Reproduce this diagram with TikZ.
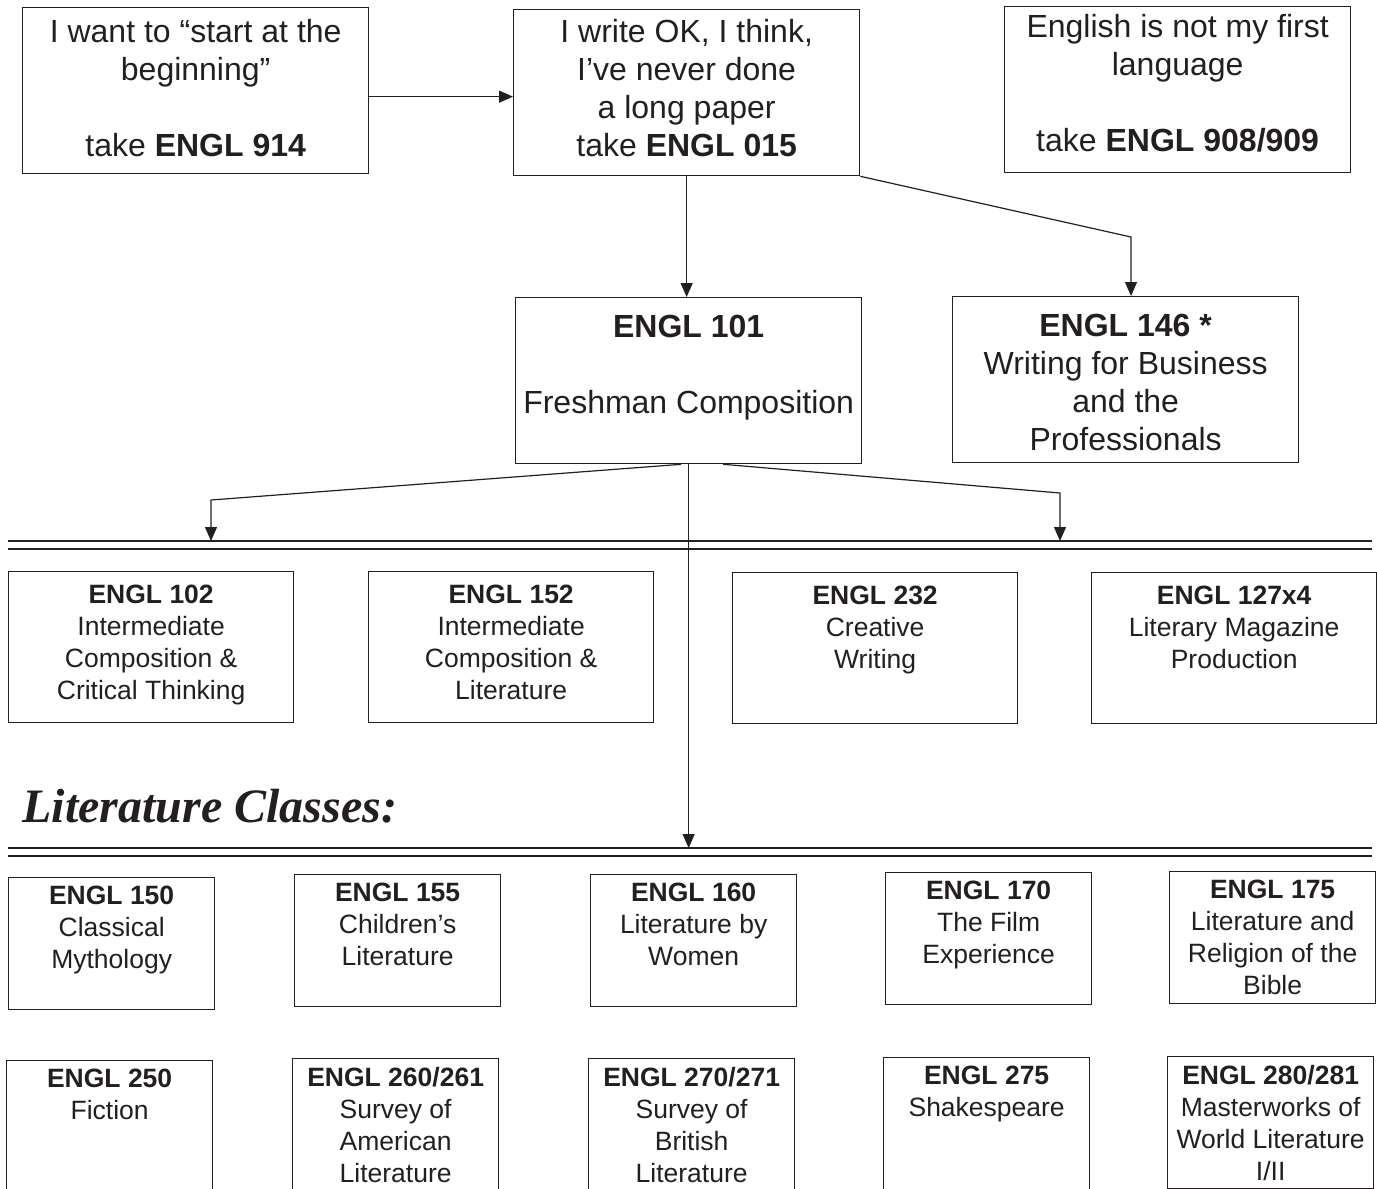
\documentclass[tikz,border=0pt]{standalone}
\usepackage{fontspec}
\setmainfont{Liberation Sans}
\newfontfamily\headingfont{Liberation Serif}
\usetikzlibrary{arrows.meta,positioning}
\definecolor{ink}{HTML}{231F20}

\begin{document}
\begin{tikzpicture}[
  x=0.5pt, y=-0.5pt,
  arrow/.style={-{Triangle[length=7pt,width=6pt]}, line width=0.6pt, draw=ink},
  divider/.style={line width=0.9pt, draw=ink},
  coursebox/.style={draw=ink, line width=0.65pt, anchor=north west, inner sep=0pt},
  topbox/.style={coursebox, minimum width=173pt, minimum height=83pt},
  widebox/.style={coursebox, minimum width=142.5pt, minimum height=75.5pt},
  smallbox/.style={coursebox, minimum width=103pt, minimum height=66pt},
  bigtext/.style={anchor=north, align=center, inner sep=0pt, text=ink,
    font=\fontsize{16pt}{19pt}\selectfont},
  smalltext/.style={bigtext, font=\fontsize{13.25pt}{16pt}\selectfont},
  heading/.style={anchor=base west, inner sep=0pt, text=ink,
    font=\headingfont\bfseries\itshape\fontsize{24pt}{28pt}\selectfont}
]
\useasboundingbox (0,0) rectangle (1377,1189);

% where to start
\node[topbox, label={[bigtext, yshift=-5.75pt]north:{I want to “start at the\\beginning”\\[19pt]take \textbf{ENGL 914}}}] (start) at (22,7) {};
\node[topbox, label={[bigtext, yshift=-4.75pt]north:{I write OK, I think,\\I’ve never done\\a long paper\\take \textbf{ENGL 015}}}] (write) at (513,9) {};
\node[topbox, label={[bigtext, yshift=-3.75pt]north:{English is not my first\\language\\[19pt]take \textbf{ENGL 908/909}}}] (esl) at (1004,6) {};

\node[topbox, label={[bigtext, yshift=-8.75pt]north:{\textbf{ENGL 101}\\[19pt]Freshman Composition}}] (comp) at (515,297) {};
\node[topbox, label={[bigtext, yshift=-8.75pt]north:{\textbf{ENGL 146 *}\\Writing for Business\\and the\\Professionals}}] (biz) at (952,296) {};

\draw[arrow] ([yshift=-3pt]start.east) -- ([yshift=-3pt]start.east -| write.west);
\draw[arrow] (write.south) -- (write.south |- comp.north);
\coordinate (bizknee) at (1131,237);
\draw[arrow] (write.south east) -- (bizknee) -- (bizknee |- biz.north);

% dividers
\coordinate (upperrule) at (8,541);
\coordinate (lowerrule) at (8,848);
\draw[divider] (upperrule) -- ++(1364,0) ([yshift=-4pt]upperrule) -- ++(1364,0);
\draw[divider] (lowerrule) -- ++(1364,0) ([yshift=-4pt]lowerrule) -- ++(1364,0);

\coordinate (leftknee) at (211,500);
\coordinate (rightknee) at (1060,493);
\draw[arrow] ([xshift=-3.75pt]comp.south) -- (leftknee) -- (leftknee |- upperrule);
\draw[arrow] ([xshift=17.25pt]comp.south) -- (rightknee) -- (rightknee |- upperrule);
\draw[arrow] (comp.south) -- (comp.south |- lowerrule);

% writing classes
\node[widebox, label={[smalltext, yshift=-7pt]north:{\textbf{ENGL 102}\\Intermediate\\Composition \&\\Critical Thinking}}] (e102) at (8,571) {};
\node[widebox, label={[smalltext, yshift=-7pt]north:{\textbf{ENGL 152}\\Intermediate\\Composition \&\\Literature}}] (e152) at (368,571) {};
\node[widebox, label={[smalltext, yshift=-7pt]north:{\textbf{ENGL 232}\\Creative\\Writing}}] (e232) at (732,572) {};
\node[widebox, label={[smalltext, yshift=-7pt]north:{\textbf{ENGL 127x4}\\Literary Magazine\\Production}}] (e127) at (1091,572) {};

\node[heading] (litclasses) at (22,822) {Literature Classes:};

% literature classes
\node[smallbox, label={[smalltext, yshift=-4.25pt]north:{\textbf{ENGL 150}\\Classical\\Mythology}}] (e150) at (8,877) {};
\node[smallbox, label={[smalltext, yshift=-4.25pt]north:{\textbf{ENGL 155}\\Children’s\\Literature}}] (e155) at (294,874) {};
\node[smallbox, label={[smalltext, yshift=-4.25pt]north:{\textbf{ENGL 160}\\Literature by\\Women}}] (e160) at (590,874) {};
\node[smallbox, label={[smalltext, yshift=-4.25pt]north:{\textbf{ENGL 170}\\The Film\\Experience}}] (e170) at (885,872) {};
\node[smallbox, label={[smalltext, yshift=-4.25pt]north:{\textbf{ENGL 175}\\Literature and\\Religion of the\\Bible}}] (e175) at (1169,871) {};

\node[smallbox, label={[smalltext, yshift=-4.25pt]north:{\textbf{ENGL 250}\\Fiction}}] (e250) at (6,1060) {};
\node[smallbox, label={[smalltext, yshift=-4.25pt]north:{\textbf{ENGL 260/261}\\Survey of\\American\\Literature}}] (e260) at (292,1058) {};
\node[smallbox, label={[smalltext, yshift=-4.25pt]north:{\textbf{ENGL 270/271}\\Survey of\\British\\Literature}}] (e270) at (588,1058) {};
\node[smallbox, label={[smalltext, yshift=-4.25pt]north:{\textbf{ENGL 275}\\Shakespeare}}] (e275) at (883,1057) {};
\node[smallbox, label={[smalltext, yshift=-4.25pt]north:{\textbf{ENGL 280/281}\\Masterworks of\\World Literature\\I/II}}] (e280) at (1167,1056) {};

\end{tikzpicture}
\end{document}
